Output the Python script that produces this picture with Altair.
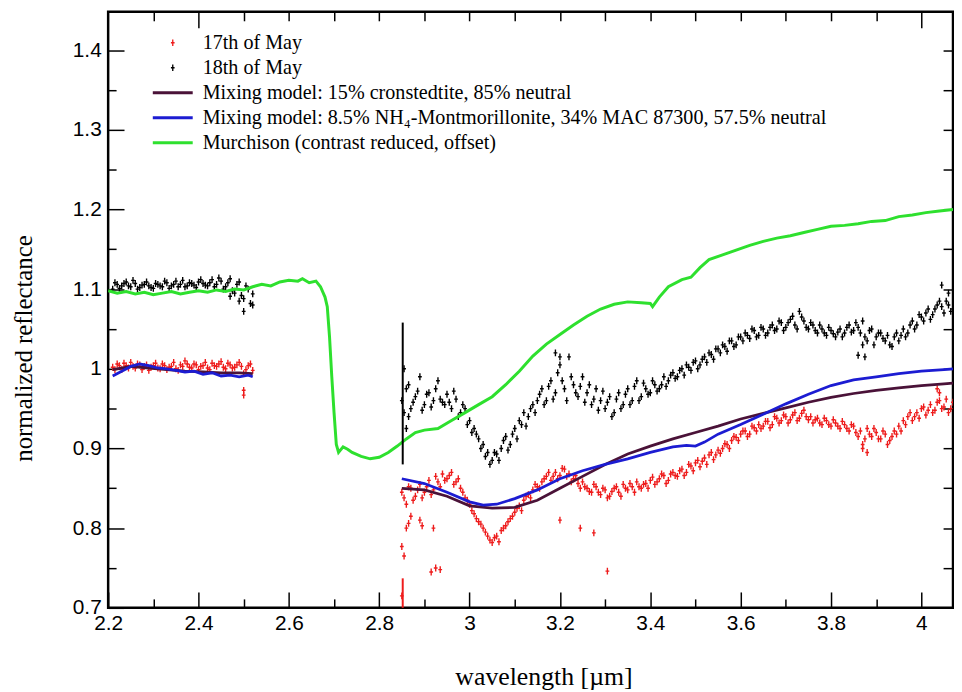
import altair as alt
import pandas as pd

S17 = "17th of May"
S18 = "18th of May"
SP = "Mixing model: 15% cronstedtite, 85% neutral"
SB = "Mixing model: 8.5% NH\u2084-Montmorillonite, 34% MAC 87300, 57.5% neutral"
SG = "Murchison (contrast reduced, offset)"
series_order = [S17, S18, SP, SB, SG]
series_colors = ["#ee1c1c", "#000000", "#4a1238", "#1c1cd2", "#2ee02e"]

# ---- observed spectra, first window ----
obs_x1 = [2.21, 2.22, 2.23, 2.24, 2.25, 2.26, 2.27, 2.28, 2.29, 2.30, 2.31, 2.32, 2.33, 2.34, 2.35, 2.36,
          2.37, 2.38, 2.39, 2.40, 2.41, 2.42, 2.43, 2.44, 2.45, 2.46, 2.47, 2.48, 2.49, 2.50, 2.51, 2.52]
black_y1 = [1.100, 1.106, 1.104, 1.109, 1.103, 1.107, 1.102, 1.106, 1.104, 1.101, 1.106, 1.103, 1.108, 1.104, 1.110, 1.106,
            1.103, 1.108, 1.105, 1.109, 1.107, 1.104, 1.112, 1.106, 1.110, 1.103, 1.113, 1.095, 1.109, 1.088, 1.100, 1.094]
red_y1 = [1.002, 1.006, 0.999, 1.004, 1.008, 1.001, 1.005, 1.003, 0.998, 1.004, 1.001, 1.006, 0.999, 1.003, 1.000, 1.005,
          1.010, 1.002, 1.006, 0.999, 1.004, 1.001, 1.007, 1.003, 1.009, 1.000, 1.005, 1.002, 1.008, 0.994, 1.004, 0.998]
obs_x1h = [2.215, 2.225, 2.235, 2.245, 2.255, 2.265, 2.275, 2.285, 2.295, 2.305, 2.315, 2.325, 2.335, 2.345, 2.355,
           2.365, 2.375, 2.385, 2.395, 2.405, 2.415, 2.425, 2.435, 2.445, 2.455, 2.465, 2.475, 2.485, 2.495, 2.505, 2.515]
black_y1h = [1.108, 1.101, 1.107, 1.104, 1.111, 1.100, 1.105, 1.109, 1.102, 1.107, 1.104, 1.110, 1.101, 1.106, 1.103,
             1.111, 1.104, 1.107, 1.102, 1.112, 1.105, 1.108, 1.103, 1.114, 1.100, 1.108, 1.098, 1.106, 1.092, 1.104, 1.082]
red_y1h = [0.999, 1.004, 1.007, 1.001, 1.003, 1.006, 0.999, 1.005, 1.002, 1.007, 1.000, 1.004, 1.002, 1.008, 0.998,
           1.003, 1.006, 1.001, 1.005, 1.003, 1.008, 0.999, 1.004, 1.006, 1.002, 1.007, 1.001, 1.005, 1.003, 0.999, 1.006]

# ---- observed spectra, second window ----
obs_x2 = [2.85, 2.86, 2.87, 2.88, 2.89, 2.90, 2.91, 2.92, 2.93, 2.94,
          2.95, 2.96, 2.97, 2.98, 2.99, 3.00, 3.01, 3.02, 3.03, 3.04,
          3.05, 3.06, 3.07, 3.08, 3.09, 3.10, 3.11, 3.12, 3.13, 3.14,
          3.15, 3.16, 3.17, 3.18, 3.19, 3.20, 3.21, 3.22, 3.23, 3.24,
          3.25, 3.26, 3.27, 3.28, 3.29, 3.30, 3.31, 3.32, 3.33, 3.34,
          3.35, 3.36, 3.37, 3.38, 3.39, 3.40, 3.41, 3.42, 3.43, 3.44,
          3.45, 3.46, 3.47, 3.48, 3.49, 3.50, 3.51, 3.52, 3.53, 3.54,
          3.55, 3.56, 3.57, 3.58, 3.59, 3.60, 3.61, 3.62, 3.63, 3.64,
          3.65, 3.66, 3.67, 3.68, 3.69, 3.70, 3.71, 3.72, 3.73, 3.74,
          3.75, 3.76, 3.77, 3.78, 3.79, 3.80, 3.81, 3.82, 3.83, 3.84,
          3.85, 3.86, 3.87, 3.88, 3.89, 3.90, 3.91, 3.92, 3.93, 3.94,
          3.95, 3.96, 3.97, 3.98, 3.99, 4.00, 4.01, 4.02, 4.03, 4.04,
          4.05, 4.06, 4.07]
black_y2 = [0.960, 0.975, 0.950, 0.965, 0.990, 0.955, 0.970, 0.960, 0.985, 0.958,
            0.968, 0.950, 0.962, 0.945, 0.950, 0.935, 0.925, 0.912, 0.905, 0.895,
            0.885, 0.893, 0.900, 0.915, 0.905, 0.925, 0.935, 0.945, 0.940, 0.955,
            0.960, 0.975, 0.960, 0.985, 0.970, 1.005, 0.975, 1.015, 0.980, 0.965,
            0.990, 0.970, 0.955, 0.975, 0.960, 0.950, 0.965, 0.945, 0.970, 0.955,
            0.975, 0.960, 0.985, 0.965, 0.975, 0.970, 0.980, 0.975, 0.990, 0.985,
            0.995, 0.990, 1.000, 1.005, 0.998, 1.010, 1.005, 1.015, 1.020, 1.012,
            1.025, 1.030, 1.022, 1.035, 1.030, 1.040, 1.045, 1.038, 1.048, 1.042,
            1.050, 1.045, 1.055, 1.050, 1.058, 1.052, 1.062, 1.055, 1.072, 1.060,
            1.050, 1.055, 1.045, 1.050, 1.042, 1.048, 1.040, 1.050, 1.045, 1.055,
            1.048, 1.052, 1.060, 1.035, 1.050, 1.040, 1.045, 1.035, 1.030, 1.040,
            1.035, 1.050, 1.045, 1.060, 1.055, 1.065, 1.070, 1.062, 1.075, 1.085,
            1.070, 1.080, 1.075]
red_y2 = [0.845, 0.830, 0.850, 0.840, 0.855, 0.845, 0.860, 0.848, 0.858, 0.868,
          0.862, 0.870, 0.858, 0.850, 0.838, 0.830, 0.818, 0.808, 0.800, 0.790,
          0.782, 0.790, 0.797, 0.803, 0.812, 0.820, 0.828, 0.835, 0.842, 0.848,
          0.852, 0.858, 0.865, 0.860, 0.870, 0.866, 0.874, 0.868, 0.862, 0.856,
          0.858, 0.850, 0.845, 0.852, 0.842, 0.848, 0.840, 0.850, 0.845, 0.855,
          0.848, 0.852, 0.858, 0.850, 0.856, 0.860, 0.855, 0.862, 0.866, 0.860,
          0.870, 0.865, 0.874, 0.870, 0.878, 0.882, 0.877, 0.888, 0.892, 0.886,
          0.898, 0.900, 0.905, 0.910, 0.914, 0.918, 0.922, 0.918, 0.926, 0.930,
          0.928, 0.934, 0.930, 0.938, 0.935, 0.940, 0.936, 0.945, 0.938, 0.948,
          0.936, 0.932, 0.938, 0.930, 0.935, 0.928, 0.932, 0.925, 0.930, 0.922,
          0.928, 0.915, 0.905, 0.925, 0.915, 0.920, 0.912, 0.918, 0.910, 0.922,
          0.928, 0.935, 0.940, 0.935, 0.945, 0.950, 0.942, 0.955, 0.948, 0.960,
          0.952, 0.945, 0.958]
obs_x2h = [2.855, 2.865, 2.875, 2.885, 2.895, 2.905, 2.915, 2.925, 2.935, 2.945,
           2.955, 2.965, 2.975, 2.985, 2.995, 3.005, 3.015, 3.025, 3.035, 3.045,
           3.055, 3.065, 3.075, 3.085, 3.095, 3.105, 3.115, 3.125, 3.135, 3.145,
           3.155, 3.165, 3.175, 3.185, 3.195, 3.205, 3.215, 3.225, 3.235, 3.245,
           3.255, 3.265, 3.275, 3.285, 3.295, 3.305, 3.315, 3.325, 3.335, 3.345,
           3.355, 3.365, 3.375, 3.385, 3.395, 3.405, 3.415, 3.425, 3.435, 3.445,
           3.455, 3.465, 3.475, 3.485, 3.495, 3.505, 3.515, 3.525, 3.535, 3.545,
           3.555, 3.565, 3.575, 3.585, 3.595, 3.605, 3.615, 3.625, 3.635, 3.645,
           3.655, 3.665, 3.675, 3.685, 3.695, 3.705, 3.715, 3.725, 3.735, 3.745,
           3.755, 3.765, 3.775, 3.785, 3.795, 3.805, 3.815, 3.825, 3.835, 3.845,
           3.855, 3.865, 3.875, 3.885, 3.895, 3.905, 3.915, 3.925, 3.935, 3.945,
           3.955, 3.965, 3.975, 3.985, 3.995, 4.005, 4.015, 4.025, 4.035, 4.045,
           4.055, 4.065]
black_y2h = [0.945, 0.980, 0.958, 0.972, 0.948, 0.968, 0.952, 0.975, 0.962, 0.955,
             0.958, 0.972, 0.940, 0.955, 0.930, 0.920, 0.918, 0.900, 0.890, 0.880,
             0.895, 0.885, 0.910, 0.898, 0.918, 0.912, 0.930, 0.928, 0.950, 0.945,
             0.968, 0.955, 0.978, 0.962, 0.995, 0.985, 0.960, 0.990, 0.970, 0.978,
             0.958, 0.980, 0.962, 0.948, 0.972, 0.958, 0.940, 0.962, 0.950, 0.968,
             0.955, 0.978, 0.960, 0.982, 0.968, 0.985, 0.972, 0.980, 0.978, 0.992,
             0.988, 0.998, 0.992, 1.002, 1.008, 1.000, 1.012, 1.008, 1.018, 1.025,
             1.020, 1.028, 1.035, 1.028, 1.040, 1.035, 1.042, 1.050, 1.040, 1.052,
             1.042, 1.052, 1.048, 1.060, 1.048, 1.058, 1.066, 1.050, 1.065, 1.052,
             1.058, 1.048, 1.055, 1.045, 1.052, 1.044, 1.046, 1.040, 1.052, 1.046,
             1.058, 1.045, 1.040, 1.048, 1.030, 1.045, 1.038, 1.042, 1.028, 1.045,
             1.042, 1.040, 1.055, 1.050, 1.068, 1.060, 1.075, 1.068, 1.080, 1.078,
             1.085, 1.072]
red_y2h = [0.838, 0.852, 0.835, 0.848, 0.838, 0.852, 0.842, 0.865, 0.852, 0.860,
           0.866, 0.855, 0.862, 0.845, 0.835, 0.822, 0.812, 0.805, 0.795, 0.785,
           0.788, 0.783, 0.800, 0.808, 0.815, 0.825, 0.822, 0.840, 0.838, 0.855,
           0.850, 0.862, 0.870, 0.865, 0.862, 0.875, 0.865, 0.858, 0.866, 0.850,
           0.852, 0.846, 0.855, 0.845, 0.850, 0.838, 0.846, 0.852, 0.840, 0.850,
           0.856, 0.845, 0.852, 0.855, 0.850, 0.864, 0.858, 0.868, 0.856, 0.868,
           0.866, 0.872, 0.866, 0.880, 0.872, 0.885, 0.884, 0.880, 0.895, 0.892,
           0.894, 0.906, 0.900, 0.915, 0.910, 0.922, 0.915, 0.928, 0.922, 0.925,
           0.934, 0.926, 0.940, 0.932, 0.942, 0.932, 0.942, 0.935, 0.944, 0.940,
           0.940, 0.936, 0.932, 0.938, 0.930, 0.936, 0.928, 0.934, 0.925, 0.930,
           0.920, 0.922, 0.912, 0.918, 0.925, 0.912, 0.922, 0.905, 0.915, 0.918,
           0.922, 0.930, 0.945, 0.940, 0.938, 0.952, 0.948, 0.945, 0.958, 0.950,
           0.962, 0.950]

# ---- scattered outlying measurements ----
black_out_x = [2.47, 2.49, 2.50, 2.52, 2.855, 2.86, 2.865, 3.19, 3.20, 3.86, 3.87, 3.875, 4.045, 4.06]
black_out_y = [1.091, 1.085, 1.072, 1.080, 1.000, 0.925, 0.940, 1.020, 1.015, 1.017, 1.030, 1.015, 1.105, 1.095]
red_out_x = [2.50, 2.50, 2.85, 2.85, 2.855, 2.86, 2.865, 2.87, 2.89, 2.895, 2.92, 2.915, 2.925, 2.935,
             3.20, 3.245, 3.275, 3.305, 3.87, 3.88, 4.035, 4.04]
red_out_y = [0.967, 0.973, 0.715, 0.777, 0.765, 0.800, 0.806, 0.815, 0.810, 0.803, 0.800, 0.745, 0.750, 0.748,
             0.810, 0.800, 0.794, 0.746, 0.900, 0.895, 0.975, 0.970]

# ---- large error bars of the first points of the second window ----
err_series = [S18, S17]
err_x = [2.852, 2.852]
err_lo = [0.880, 0.700]
err_hi = [1.058, 0.737]

# ---- Murchison ----
green_x = [2.20, 2.22, 2.24, 2.26, 2.28, 2.30, 2.32, 2.34, 2.36, 2.38, 2.40, 2.42, 2.44, 2.46, 2.48, 2.50, 2.52,
           2.54, 2.56, 2.58, 2.60, 2.62, 2.63, 2.645, 2.66, 2.67, 2.68, 2.685, 2.69, 2.695, 2.70, 2.705, 2.71,
           2.72, 2.73, 2.74, 2.76, 2.78, 2.80, 2.82, 2.84, 2.86, 2.88, 2.90,
           2.93, 2.96, 2.99, 3.02, 3.05, 3.08, 3.11, 3.14, 3.17, 3.20,
           3.23, 3.26, 3.29, 3.32, 3.35, 3.38, 3.40, 3.405, 3.42, 3.44,
           3.47, 3.49, 3.51, 3.53, 3.56, 3.59, 3.62, 3.65, 3.68, 3.71,
           3.74, 3.77, 3.80, 3.83, 3.86, 3.89, 3.92, 3.95, 3.98, 4.01, 4.04, 4.07]
green_y = [1.098, 1.095, 1.097, 1.094, 1.096, 1.093, 1.095, 1.097, 1.094, 1.096, 1.098, 1.096, 1.099, 1.097, 1.100, 1.099, 1.103,
           1.106, 1.104, 1.109, 1.111, 1.110, 1.113, 1.108, 1.110, 1.103, 1.090, 1.078, 1.040, 0.990, 0.945, 0.905, 0.895,
           0.902, 0.899, 0.895, 0.890, 0.887, 0.889, 0.895, 0.903, 0.912, 0.920, 0.923,
           0.925, 0.935, 0.945, 0.955, 0.965, 0.980, 0.997, 1.016, 1.031, 1.043,
           1.055, 1.066, 1.075, 1.081, 1.084, 1.083, 1.082, 1.078, 1.090, 1.103,
           1.112, 1.115, 1.127, 1.137, 1.143, 1.149, 1.155, 1.160, 1.164, 1.167,
           1.171, 1.175, 1.179, 1.180, 1.182, 1.185, 1.186, 1.191, 1.193, 1.196, 1.198, 1.200]

# ---- mixing model: cronstedtite ----
purple_x1 = [2.21, 2.25, 2.29, 2.33, 2.37, 2.41, 2.45, 2.49, 2.52]
purple_y1 = [0.999, 1.003, 1.001, 0.999, 0.997, 0.996, 0.995, 0.995, 0.994]
purple_x2 = [2.85, 2.90, 2.95, 3.00, 3.05, 3.10, 3.15, 3.20, 3.25, 3.30, 3.35, 3.40, 3.45, 3.50, 3.55,
             3.60, 3.65, 3.70, 3.75, 3.80, 3.85, 3.90, 3.95, 4.00, 4.05, 4.07]
purple_y2 = [0.850, 0.848, 0.840, 0.828, 0.825, 0.826, 0.835, 0.850, 0.865, 0.880, 0.893, 0.903, 0.912, 0.920, 0.928,
             0.937, 0.944, 0.951, 0.958, 0.964, 0.969, 0.973, 0.976, 0.979, 0.981, 0.982]

# ---- mixing model: NH4-montmorillonite ----
blue_x1 = [2.21, 2.23, 2.25, 2.27, 2.29, 2.31, 2.33, 2.35, 2.37, 2.39, 2.41, 2.43, 2.45, 2.47, 2.49, 2.51, 2.52]
blue_y1 = [0.991, 0.997, 1.003, 1.006, 1.004, 1.001, 1.000, 0.998, 0.996, 0.997, 0.993, 0.995, 0.991, 0.992, 0.990, 0.992, 0.990]
blue_x2 = [2.85, 2.90, 2.95, 3.00, 3.03, 3.06, 3.10, 3.15, 3.20, 3.25, 3.30, 3.35, 3.40, 3.45, 3.48,
           3.50, 3.52, 3.55, 3.60, 3.65, 3.70, 3.75, 3.80, 3.85, 3.90, 3.95, 4.00, 4.05, 4.07]
blue_y2 = [0.862, 0.856, 0.845, 0.833, 0.829, 0.830, 0.837, 0.848, 0.862, 0.872, 0.880, 0.887, 0.895, 0.902, 0.904,
           0.903, 0.908, 0.918, 0.930, 0.943, 0.956, 0.968, 0.979, 0.986, 0.990, 0.994, 0.997, 0.999, 1.000]

# ---- axis tick values ----
x_major_ticks = [2.2, 2.4, 2.6, 2.8, 3.0, 3.2, 3.4, 3.6, 3.8, 4.0]
x_minor_ticks = [2.3, 2.5, 2.7, 2.9, 3.1, 3.3, 3.5, 3.7, 3.9]
x_top_ticks = [2.3, 2.5, 2.6, 2.7, 2.8, 2.9, 3.0, 3.1, 3.2, 3.3, 3.4, 3.5, 3.6, 3.7, 3.8, 3.9]
x_top_long = [2.4, 4.0]
y_major_ticks = [0.7, 0.8, 0.9, 1.0, 1.1, 1.2, 1.3, 1.4]
y_minor_ticks = [0.75, 0.85, 0.95, 1.05, 1.15, 1.25, 1.35]
y_right_ticks = [0.75, 0.8, 0.85, 0.9, 0.95, 1.0, 1.05, 1.1, 1.15, 1.2, 1.25, 1.3, 1.35, 1.4]

# ---- tables ----
n18 = len(obs_x1) + len(obs_x1h) + len(obs_x2) + len(obs_x2h) + len(black_out_x)
n17 = len(obs_x1) + len(obs_x1h) + len(obs_x2) + len(obs_x2h) + len(red_out_x)
pts = pd.DataFrame({
    "wl": obs_x1 + obs_x1h + obs_x2 + obs_x2h + black_out_x + obs_x1 + obs_x1h + obs_x2 + obs_x2h + red_out_x,
    "refl": black_y1 + black_y1h + black_y2 + black_y2h + black_out_y + red_y1 + red_y1h + red_y2 + red_y2h + red_out_y,
    "series": [S18] * n18 + [S17] * n17,
})
green_df = pd.DataFrame({"wl": green_x, "refl": green_y, "series": SG, "seg": 0})
purple_df = pd.DataFrame({
    "wl": purple_x1 + purple_x2, "refl": purple_y1 + purple_y2, "series": SP,
    "seg": [1] * len(purple_x1) + [2] * len(purple_x2)})
blue_df = pd.DataFrame({
    "wl": blue_x1 + blue_x2, "refl": blue_y1 + blue_y2, "series": SB,
    "seg": [1] * len(blue_x1) + [2] * len(blue_x2)})
err_df = pd.DataFrame({"wl": err_x, "lo": err_lo, "hi": err_hi, "series": err_series})

PLUS = "M-0.2,-1H0.2V1H-0.2Z M-0.55,-0.2H0.55V0.2H-0.55Z"
BAR = "M-6.0,-0.45H6.0V0.45H-6.0Z"

x_scale = alt.Scale(domain=[2.2, 4.07], nice=False, zero=False)
y_scale = alt.Scale(domain=[0.7, 1.448], nice=False, zero=False)
color_scale = alt.Scale(domain=series_order, range=series_colors)
shape_scale = alt.Scale(domain=series_order, range=[PLUS, PLUS, BAR, BAR, BAR])

tick_style = dict(domain=False, grid=False, tickColor="black", tickWidth=1.5)

ax_x_major = alt.Axis(orient="bottom", values=x_major_ticks, tickSize=16, offset=-16, labelPadding=5,
                      format="~g", labelFont="Liberation Sans", labelFontSize=21, labelColor="black",
                      labelFlush=False, title="wavelength [\u00b5m]", titleFont="Liberation Serif",
                      titleFontSize=26, titleFontWeight="normal", titleColor="black", titlePadding=30,
                      titleX=439, **tick_style)
ax_x_minor = alt.Axis(orient="bottom", values=x_minor_ticks, tickSize=9, offset=-9, labels=False,
                      title=None, **tick_style)
ax_x_top = alt.Axis(orient="top", values=x_top_ticks, tickSize=9, offset=-9, labels=False,
                    title=None, **tick_style)
ax_x_top_long = alt.Axis(orient="top", values=x_top_long, tickSize=16, offset=-16, labels=False,
                         title=None, **tick_style)
ax_y_major = alt.Axis(orient="left", values=y_major_ticks, tickSize=16, offset=-16, labelPadding=7,
                      format="~g", labelFont="Liberation Sans", labelFontSize=21, labelColor="black",
                      labelFlush=False, title="normalized reflectance", titleFont="Liberation Serif",
                      titleFontSize=25, titleFontWeight="normal", titleColor="black", titlePadding=36,
                      titleY=339, **tick_style)
ax_y_minor = alt.Axis(orient="left", values=y_minor_ticks, tickSize=8, offset=-8, labels=False,
                      title=None, **tick_style)
ax_y_right = alt.Axis(orient="right", values=y_right_ticks, tickSize=10, offset=-10, labels=False,
                      title=None, **tick_style)

legend = alt.Legend(orient="none", legendX=55, legendY=21, title=None, labelFont="Liberation Serif",
                    labelFontSize=20.3, labelColor="black", labelLimit=2000, symbolSize=45,
                    symbolStrokeWidth=0, labelOffset=20, rowPadding=4.2, padding=0)

points = alt.Chart(pts).mark_point(filled=True, size=48, opacity=1, strokeWidth=0, clip=True).encode(
    x=alt.X("wl:Q", scale=x_scale, axis=ax_x_major),
    y=alt.Y("refl:Q", scale=y_scale, axis=ax_y_major),
    color=alt.Color("series:N", scale=color_scale, legend=legend),
    shape=alt.Shape("series:N", scale=shape_scale, legend=legend),
)

green = alt.Chart(green_df).mark_line(strokeWidth=3, clip=True).encode(
    x=alt.X("wl:Q", scale=x_scale, axis=ax_x_minor),
    y=alt.Y("refl:Q", scale=y_scale, axis=ax_y_minor),
    color=alt.Color("series:N", scale=color_scale, legend=None),
    detail="seg:N",
)

purple = alt.Chart(purple_df).mark_line(strokeWidth=2.8, clip=True).encode(
    x=alt.X("wl:Q", scale=x_scale, axis=ax_x_top),
    y=alt.Y("refl:Q", scale=y_scale, axis=ax_y_right),
    color=alt.Color("series:N", scale=color_scale, legend=None),
    detail="seg:N",
)

blue = alt.Chart(blue_df).mark_line(strokeWidth=2.8, clip=True).encode(
    x=alt.X("wl:Q", scale=x_scale, axis=ax_x_top_long),
    y=alt.Y("refl:Q", scale=y_scale, axis=None),
    color=alt.Color("series:N", scale=color_scale, legend=None),
    detail="seg:N",
)

errs = alt.Chart(err_df).mark_rule(strokeWidth=2).encode(
    x=alt.X("wl:Q", scale=x_scale, axis=None),
    y=alt.Y("lo:Q", scale=y_scale, axis=None),
    y2="hi:Q",
    color=alt.Color("series:N", scale=color_scale, legend=None),
)

chart = alt.layer(points, green, purple, blue, errs).resolve_axis(
    x="independent", y="independent"
).properties(
    width=954, height=684,
    autosize=alt.AutoSizeParams(type="fit", contains="padding"),
    padding={"left": 3, "top": 0, "right": 0, "bottom": 0},
    background="white",
).configure_view(stroke="black", strokeWidth=2.5)

chart.save("out.html", embed_options={"renderer": "svg", "actions": False})
